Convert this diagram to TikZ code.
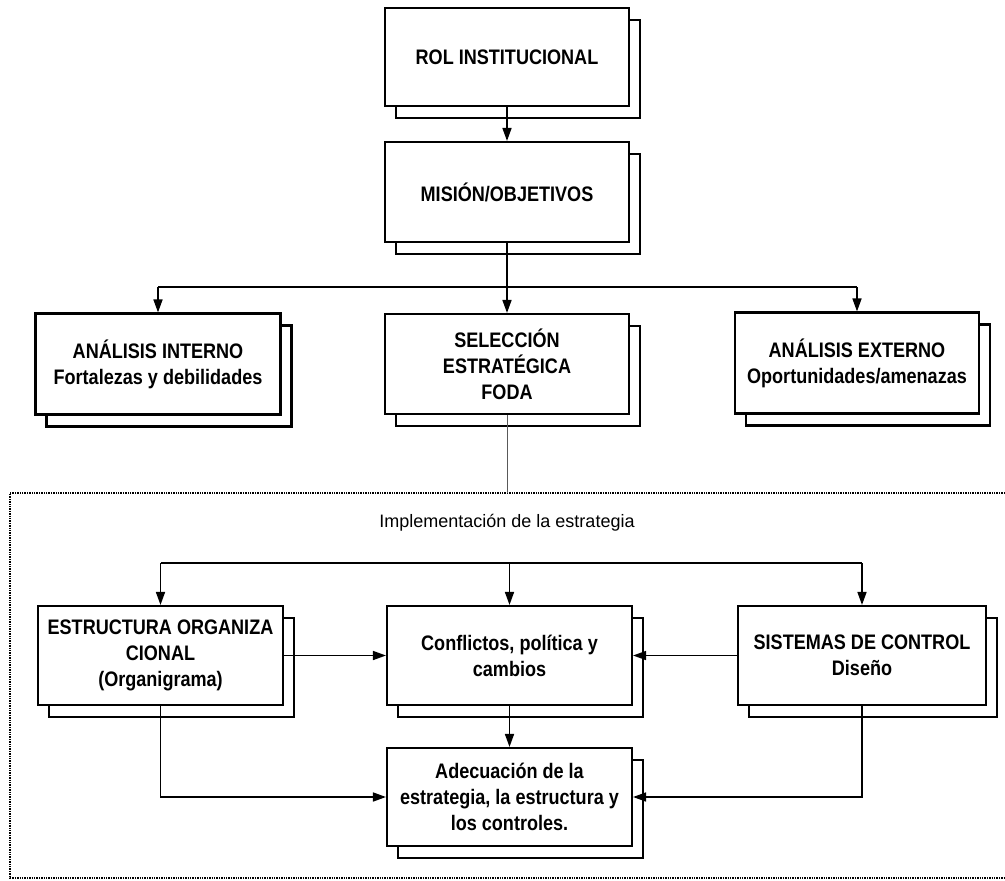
\documentclass[tikz,border=0pt]{standalone}
\usepackage{fontspec}
\setmainfont{Liberation Sans}
\newfontfamily\narrowfont{Liberation Sans}[FakeStretch=0.86]
\usetikzlibrary{arrows.meta,shadows}

\begin{document}
\begin{tikzpicture}[x=1pt,y=-1pt,
  box/.style={draw=black, line width=2.1pt, fill=white, align=center,
    inner sep=2pt, font=\narrowfont\bfseries\fontsize{21}{26}\selectfont,
    copy shadow={draw=black, fill=white, line width=2.6pt,
      shadow xshift=11pt, shadow yshift=-12pt}},
  conn/.style={line width=1.6pt},
  arr/.style={conn, -{Triangle[length=13pt,width=9pt]}},
  thinline/.style={line width=0.9pt, draw=black!65},
  frame/.style={densely dotted, line width=1.4pt},
  ]
\useasboundingbox[fill=white] (0,0) rectangle (1005,881);

% strategy formulation
\node[box, minimum width=244pt, minimum height=98pt]  (rol) at (507,57)  {ROL INSTITUCIONAL};
\node[box, minimum width=244pt, minimum height=100pt] (mis) at (507,192) {MISIÓN/OBJETIVOS};
\node[box, minimum width=245pt, minimum height=101pt] (ai)  at (158,364) {ANÁLISIS INTERNO\\Fortalezas y debilidades};
\node[box, minimum width=244pt, minimum height=100pt] (sel) at (507,364) {SELECCIÓN\\ESTRATÉGICA\\FODA};
\node[box, minimum width=244pt, minimum height=101pt] (ae)  at (857,363) {ANÁLISIS EXTERNO\\Oportunidades/amenazas};

% implementation frame
\draw[frame] (1005,493) -- (10,493) -- (10,878) -- (1005,878);
\coordinate (frametop) at (507,493);
\node[font=\fontsize{18}{22}\selectfont] (impl) at (507,523) {Implementación de la estrategia};

\node[box, minimum width=245pt, minimum height=99pt] (es) at (160.5,655.5) {ESTRUCTURA ORGANIZA\\CIONAL\\(Organigrama)};
\node[box, minimum width=245pt, minimum height=99pt] (co) at (509.5,655.5) {Conflictos, política y\\cambios};
\node[box, minimum width=248pt, minimum height=99pt] (si) at (862,655.5) {SISTEMAS DE CONTROL\\Diseño};
\node[box, minimum width=245pt, minimum height=98pt] (ad) at (509.5,797) {Adecuación de la\\estrategia, la estructura y\\los controles.};

% upper connectors
\coordinate (busA) at (507,287);
\draw[arr] (rol.south) -- (mis.north);
\draw[conn] (mis.south) -- (busA);
\draw[conn] (ai.north |- busA) -- (ae.north |- busA);
\draw[arr] (busA) -- (sel.north);
\draw[arr] (ai.north |- busA) -- (ai.north);
\draw[arr] (ae.north |- busA) -- (ae.north);
\draw[thinline] (sel.south) -- (frametop);

% lower connectors
\coordinate (busB) at (509.5,563);
\draw[conn] (es.north |- busB) -- (si.north |- busB);
\draw[arr] (es.north |- busB) -- (es.north);
\draw[arr] (busB) -- (co.north);
\draw[arr] (si.north |- busB) -- (si.north);
\draw[arr] (es.east) -- (co.west);
\draw[arr] (si.west) -- (co.east);
\draw[arr] (co.south) -- (ad.north);
\draw[arr] (es.south) |- (ad.west);
\draw[arr] (si.south) |- (ad.east);
\end{tikzpicture}
\end{document}
